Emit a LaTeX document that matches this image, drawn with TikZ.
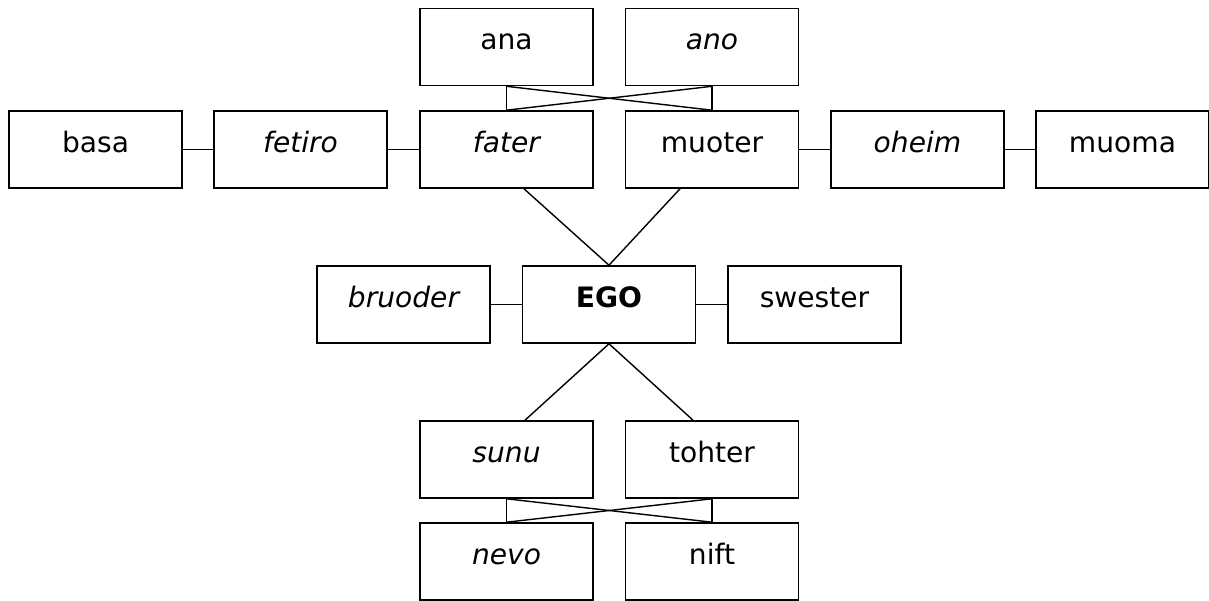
\documentclass[tikz,border=0pt]{standalone}
\usepackage{fontspec}
\setmainfont{DejaVu Sans}
\usetikzlibrary{calc}
\usetikzlibrary{positioning}

\tikzset{
    kin/.style={draw, line width=0.9pt, minimum width=3.46cm, minimum height=1.54cm,
        text height=0.36cm, text depth=0.24cm, inner sep=0pt,
        font=\fontsize{16}{19}\selectfont},
    tie/.style={line width=0.8pt}
}

\begin{document}
\begin{tikzpicture}
    \useasboundingbox (0,0) rectangle (24.18,12);
    % grandparents
    \node[kin] (ana) at (10.13,11.06) {ana};
    \node[kin] (ano) at (14.24,11.06) {\itshape ano};
    % parents' row
    \node[kin] (basa) at (1.91,9.01) {basa};
    \node[kin] (fetiro) at (6.01,9.01) {\itshape fetiro};
    \node[kin] (fater) at (10.13,9.01) {\itshape fater};
    \node[kin] (muoter) at (14.24,9.01) {muoter};
    \node[kin] (oheim) at (18.35,9.01) {\itshape oheim};
    \node[kin] (muoma) at (22.45,9.01) {muoma};
    % ego and siblings
    \node[kin] (bruoder) at (8.07,5.91) {\itshape bruoder};
    \node[kin] (ego) at (12.18,5.91) {\bfseries EGO};
    \node[kin] (swester) at (16.29,5.91) {swester};
    % children
    \node[kin] (sunu) at (10.13,2.81) {\itshape sunu};
    \node[kin] (tohter) at (14.24,2.81) {tohter};
    % grandchildren
    \node[kin] (nevo) at (10.13,0.77) {\itshape nevo};
    \node[kin] (nift) at (14.24,0.77) {nift};
    % side links
    \draw[tie] (basa) -- (fetiro);
    \draw[tie] (fetiro) -- (fater);
    \draw[tie] (muoter) -- (oheim);
    \draw[tie] (oheim) -- (muoma);
    \draw[tie] (bruoder) -- (ego);
    \draw[tie] (ego) -- (swester);
    % crossed links to grandparents
    \draw[tie] (ana) -- (fater);
    \draw[tie] (ano) -- (muoter);
    \draw[tie] (ana.south) -- (muoter.north);
    \draw[tie] (ano.south) -- (fater.north);
    % parents down to ego
    \draw[tie] ($(fater.south)+(0.35,0)$) -- (ego.north);
    \draw[tie] ($(muoter.south)+(-0.64,0)$) -- (ego.north);
    % ego down to children
    \draw[tie] (ego.south) -- ($(sunu.north)+(0.37,0)$);
    \draw[tie] (ego.south) -- ($(tohter.north)+(-0.38,0)$);
    % crossed links to grandchildren
    \draw[tie] (sunu) -- (nevo);
    \draw[tie] (tohter) -- (nift);
    \draw[tie] (sunu.south) -- (nift.north);
    \draw[tie] (tohter.south) -- (nevo.north);
\end{tikzpicture}
\end{document}
